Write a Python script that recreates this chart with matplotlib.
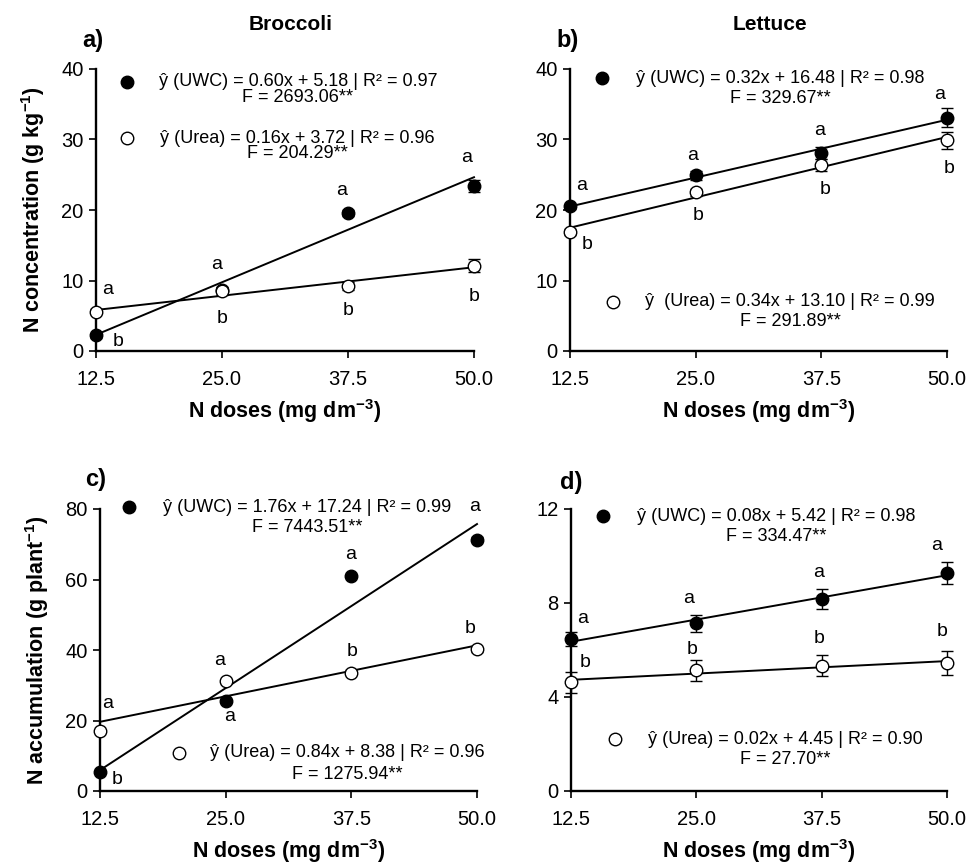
import numpy as np
import matplotlib
matplotlib.use("Agg")
import matplotlib.pyplot as plt

plt.rcParams["font.family"] = ["Liberation Sans", "DejaVu Sans"]
plt.rcParams["mathtext.fontset"] = "custom"
plt.rcParams["mathtext.rm"] = "Liberation Sans"
plt.rcParams["mathtext.bf"] = "Liberation Sans:bold"

# --- data ---
doses = [12.5, 25.0, 37.5, 50.0]

# a) broccoli, N concentration
broc_conc_uwc = [2.2, 8.7, 19.6, 23.4]
broc_conc_uwc_err = [0.3, 0.4, 0.4, 0.8]
broc_conc_urea = [5.6, 8.5, 9.2, 12.1]
broc_conc_urea_err = [0.3, 0.5, 0.6, 0.9]
broc_conc_uwc_letters = ["b", "a", "a", "a"]
broc_conc_urea_letters = ["a", "b", "b", "b"]

# b) lettuce, N concentration
lett_conc_uwc = [20.5, 24.9, 28.1, 33.1]
lett_conc_uwc_err = [0.4, 0.6, 0.8, 1.3]
lett_conc_urea = [16.9, 22.5, 26.4, 29.9]
lett_conc_urea_err = [0.4, 0.5, 0.8, 1.2]
lett_conc_uwc_letters = ["a", "a", "a", "a"]
lett_conc_urea_letters = ["b", "b", "b", "b"]

# c) broccoli, N accumulation
broc_acc_uwc = [5.5, 25.6, 60.9, 71.3]
broc_acc_uwc_err = [0.5, 0.6, 0.6, 0.8]
broc_acc_urea = [16.9, 31.2, 33.6, 40.2]
broc_acc_urea_err = [0.5, 0.6, 0.6, 0.7]
broc_acc_uwc_letters = ["b", "a", "a", "a"]
broc_acc_urea_letters = ["a", "a", "b", "b"]

# d) lettuce, N accumulation
lett_acc_uwc = [6.48, 7.14, 8.17, 9.28]
lett_acc_uwc_err = [0.30, 0.36, 0.41, 0.48]
lett_acc_urea = [4.62, 5.13, 5.33, 5.44]
lett_acc_urea_err = [0.46, 0.43, 0.45, 0.50]
lett_acc_uwc_letters = ["a", "a", "a", "a"]
lett_acc_urea_letters = ["b", "b", "b", "b"]

eq_uwc = ["ŷ (UWC) = 0.60x + 5.18 | R² = 0.97",
          "ŷ (UWC) = 0.32x + 16.48 | R² = 0.98",
          "ŷ (UWC) = 1.76x + 17.24 | R² = 0.99",
          "ŷ (UWC) = 0.08x + 5.42 | R² = 0.98"]
f_uwc = ["F = 2693.06**", "F = 329.67**", "F = 7443.51**", "F = 334.47**"]
eq_urea = ["ŷ (Urea) = 0.16x + 3.72 | R² = 0.96",
           "ŷ  (Urea) = 0.34x + 13.10 | R² = 0.99",
           "ŷ (Urea) = 0.84x + 8.38 | R² = 0.96",
           "ŷ (Urea) = 0.02x + 4.45 | R² = 0.90"]
f_urea = ["F = 204.29**", "F = 291.89**", "F = 1275.94**", "F = 27.70**"]

crops = ["Broccoli", "Lettuce"]
panel_tags = ["a)", "b)", "c)", "d)"]
xlabel = r"N doses (mg dm$^{\mathbf{-3}}$)"
ylabels = [r"N concentration (g kg$^{\mathbf{-1}}$)", None,
           r"N accumulation (g plant$^{\mathbf{-1}}$)", None]

# --- layout / style ---
W, H = 970, 866
fig = plt.figure(figsize=(W / 100, H / 100), dpi=100)

axes_px = [(96, 69, 474, 351), (570, 69, 947, 351),
           (100, 509, 477, 791), (571, 509, 947, 791)]
ylims = [(40, 10), (40, 10), (80, 20), (12, 4)]

# letter offsets in pixels (uwc, urea) per dose
off_uwc = [[(22, -6), (-5, 25), (-6, 22), (-7, 29)],
           [(12, 21), (-3, 20), (-2, 22), (-7, 23)],
           [(17, -8), (4, -16), (-1, 22), (-2, 33)],
           [(12, 20), (-8, 25), (-3, 27), (-10, 27)]]
off_urea = [[(12, 22), (0, -27), (0, -24), (0, -31)],
            [(17, -13), (2, -23), (4, -25), (2, -28)],
            [(8, 28), (-6, 21), (1, 21), (-7, 21)],
            [(14, 20), (-4, 21), (-3, 27), (-5, 32)]]

# equation positions (axes coords): marker x, text x, line y, F y
eq_pos_uwc = [(0.082, 0.534, 0.954, 0.900), (0.085, 0.557, 0.968, 0.894),
              (0.077, 0.549, 1.007, 0.933), (0.085, 0.545, 0.975, 0.901)]
eq_pos_urea = [(0.082, 0.532, 0.755, 0.699), (0.114, 0.584, 0.174, 0.103),
               (0.210, 0.657, 0.135, 0.060), (0.117, 0.569, 0.184, 0.113)]

series = [
    (broc_conc_uwc, broc_conc_uwc_err, broc_conc_uwc_letters,
     broc_conc_urea, broc_conc_urea_err, broc_conc_urea_letters),
    (lett_conc_uwc, lett_conc_uwc_err, lett_conc_uwc_letters,
     lett_conc_urea, lett_conc_urea_err, lett_conc_urea_letters),
    (broc_acc_uwc, broc_acc_uwc_err, broc_acc_uwc_letters,
     broc_acc_urea, broc_acc_urea_err, broc_acc_urea_letters),
    (lett_acc_uwc, lett_acc_uwc_err, lett_acc_uwc_letters,
     lett_acc_urea, lett_acc_urea_err, lett_acc_urea_letters),
]

MS = 9
x = np.array(doses)

for i, (l, t, r, b) in enumerate(axes_px):
    ax = fig.add_axes([l / W, 1 - b / H, (r - l) / W, (b - t) / H])
    uwc, uwc_err, uwc_let, urea, urea_err, urea_let = series[i]

    # regression lines
    for yv in (uwc, urea):
        k, c0 = np.polyfit(x, yv, 1)
        xx = np.array([x.min(), x.max()])
        ax.plot(xx, k * xx + c0, color="black", lw=1.4, zorder=2, clip_on=False)

    for yv, ye, fc in ((uwc, uwc_err, "black"), (urea, urea_err, "white")):
        cont = ax.errorbar(x, yv, yerr=ye, fmt="o", ms=MS, mfc=fc, mec="black",
                           mew=1.0, ecolor="black", elinewidth=1.0, capsize=4,
                           capthick=1.0, zorder=3, clip_on=False)
        for art in cont.get_children():
            art.set_clip_on(False)

    # significance letters
    for j in range(len(doses)):
        ax.annotate(uwc_let[j], (x[j], uwc[j]), xytext=off_uwc[i][j],
                    textcoords="offset pixels", ha="center", va="center",
                    fontsize=14)
        ax.annotate(urea_let[j], (x[j], urea[j]), xytext=off_urea[i][j],
                    textcoords="offset pixels", ha="center", va="center",
                    fontsize=14)

    # equations
    for pos, eq, fs, fc in ((eq_pos_uwc[i], eq_uwc[i], f_uwc[i], "black"),
                            (eq_pos_urea[i], eq_urea[i], f_urea[i], "white")):
        mx, tx, ty, fy = pos
        ax.plot([mx], [ty], "o", ms=MS, mfc=fc, mec="black", mew=1.0,
                transform=ax.transAxes, clip_on=False)
        ax.text(tx, ty, eq, transform=ax.transAxes, ha="center", va="center",
                fontsize=13)
        ax.text(tx, fy, fs, transform=ax.transAxes, ha="center", va="center",
                fontsize=13)

    ymax, ystep = ylims[i]
    ax.set_xlim(doses[0], doses[-1])
    ax.set_ylim(0, ymax)
    ax.set_xticks(doses)
    ax.set_xticklabels([f"{d:.1f}" for d in doses])
    ax.set_yticks(np.arange(0, ymax + ystep / 2, ystep))
    for s in ("top", "right"):
        ax.spines[s].set_visible(False)
    for s in ("left", "bottom"):
        ax.spines[s].set_linewidth(1.7)
    ax.tick_params(axis="both", direction="out", length=5, width=1.2,
                   labelsize=14.5)
    ax.tick_params(axis="x", pad=9)
    ax.tick_params(axis="y", pad=4)

    ax.set_xlabel(xlabel, fontsize=15.5, fontweight="bold", va="center")
    ax.xaxis.set_label_coords(0.5, -0.212)
    if ylabels[i]:
        ax.set_ylabel(ylabels[i], fontsize=15.5, fontweight="bold")
        ax.yaxis.set_label_coords(-0.13, 0.5)

# crop titles and panel tags
fig.text(291 / W, 1 - 25 / H, crops[0], ha="center", va="center",
         fontsize=15, fontweight="bold")
fig.text(770 / W, 1 - 25 / H, crops[1], ha="center", va="center",
         fontsize=15, fontweight="bold")
tag_px = [(82, 40), (556, 40), (85, 480), (560, 482)]
for tag, (px, py) in zip(panel_tags, tag_px):
    fig.text(px / W, 1 - py / H, tag, ha="left", va="center",
             fontsize=17, fontweight="bold")

fig.savefig("out.png", dpi=100)
